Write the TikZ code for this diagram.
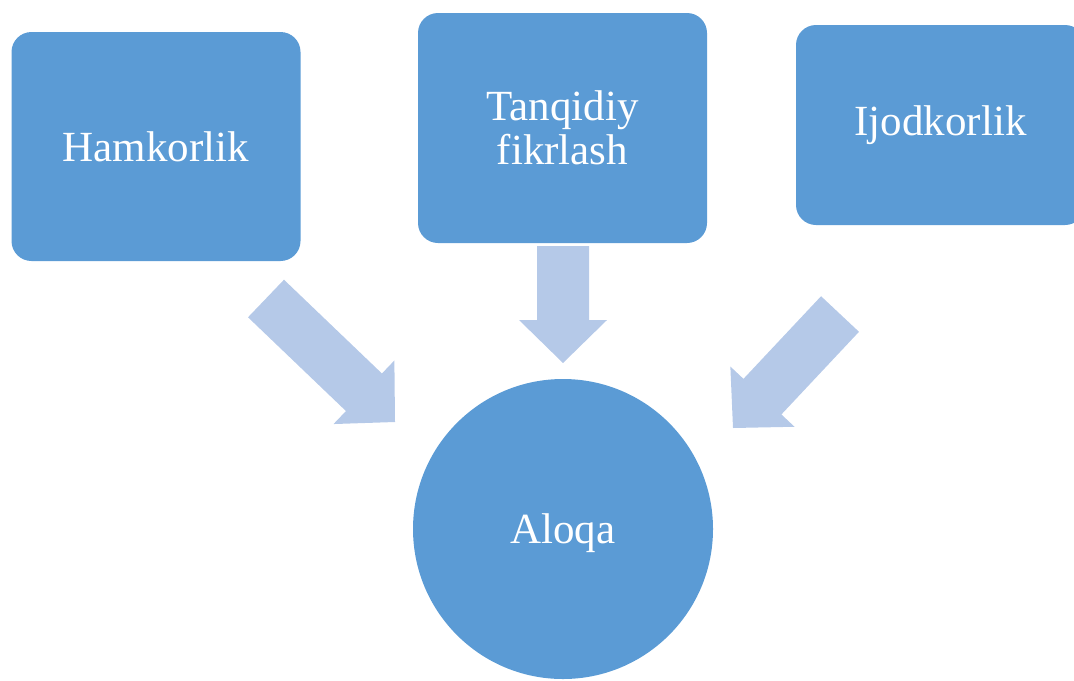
\documentclass[tikz,border=0pt]{standalone}
\usepackage{fontspec}
\setmainfont{Liberation Serif}
\usetikzlibrary{calc}
\definecolor{boxblue}{HTML}{5B9BD5}
\definecolor{arrowblue}{HTML}{B5C9E8}
% block arrow from #1 (tail) to #2 (tip)
\newcommand{\fatarrow}[2]{%
  \coordinate (neck) at ($(#2)!21.5pt!(#1)$);
  \fill[arrowblue] ($(#1)!13pt!90:(#2)$) -- ($(neck)!13pt!90:(#2)$) -- ($(neck)!22pt!90:(#2)$) -- (#2)
    -- ($(neck)!22pt!-90:(#2)$) -- ($(neck)!13pt!-90:(#2)$) -- ($(#1)!13pt!-90:(#2)$) -- cycle;}

\begin{document}
\begin{tikzpicture}[x=0.5pt,y=-0.5pt,
  every node/.style={font=\fontsize{21.5}{22}\selectfont,text=white},
  box/.style={fill=boxblue,rounded corners=10pt,minimum width=144.5pt,inner sep=0pt}]
\useasboundingbox (0,0) rectangle (1074,680);
\clip (0,0) rectangle (1074,680);
\node[box,minimum height=114.5pt] (hamkor) at (156,146.5) {Hamkorlik};
\node[box,minimum height=115pt,align=center] (tanqid) at (562.5,128) {Tanqidiy\\fikrlash};
\node[box,minimum height=100pt] (ijod) at (940.5,125) {Ijodkorlik};
\node[circle,fill=boxblue,minimum size=150pt,inner sep=0pt,text depth=0pt] (aloqa) at (563,529) {Aloqa};
% arrows
\coordinate (t1) at (266,298.5); \coordinate (h1) at (395,422);
\coordinate (t2) at (563,246);   \coordinate (h2) at (563,363);
\coordinate (t3) at (840,314);   \coordinate (h3) at (733,428);
\fatarrow{t1}{h1}
\fatarrow{t2}{h2}
\fatarrow{t3}{h3}
\end{tikzpicture}
\end{document}
